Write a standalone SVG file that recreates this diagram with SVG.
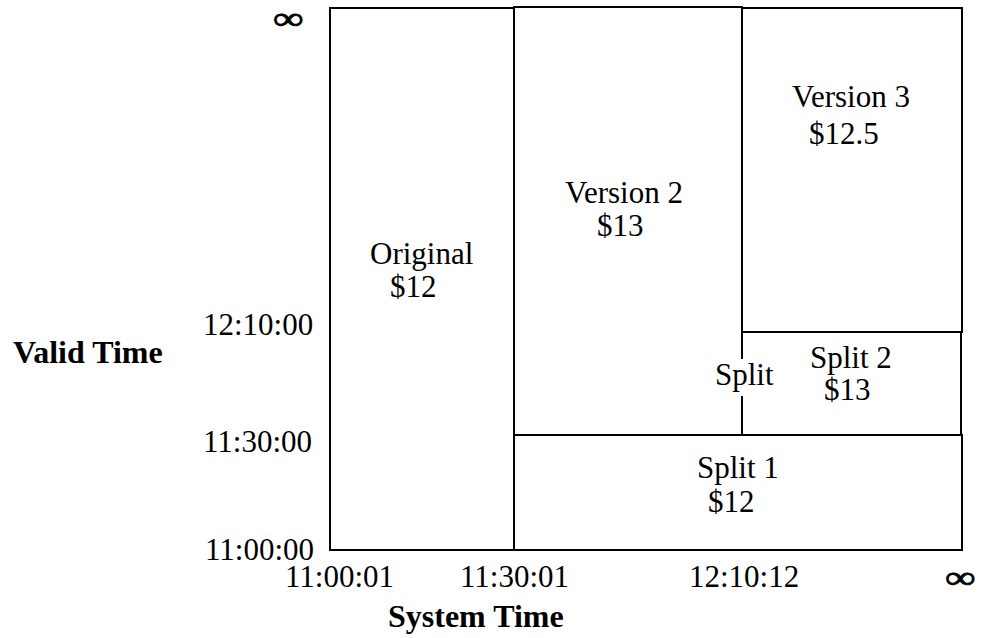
<svg xmlns="http://www.w3.org/2000/svg" width="981" height="638" viewBox="0 0 981 638">
<style>
  .box { fill: none; stroke: #000; stroke-width: 2; }
  .t { font-family: "Liberation Serif", "Times New Roman", serif; font-size: 31px; fill: #000; }
  .b { font-family: "Liberation Serif", "Times New Roman", serif; font-size: 32px; font-weight: bold; fill: #000; }
  .inf { font-family: "Liberation Serif", "DejaVu Serif", serif; font-size: 32px; fill: #000; stroke: #000; stroke-width: 0.8; }
</style>
<rect x="0" y="0" width="981" height="638" fill="#fff"/>
<g id="original">
  <rect class="box" x="330" y="8" width="184" height="542"/>
  <text class="t" x="370" y="264">Original</text>
  <text class="t" x="390" y="297">$12</text>
</g>
<g id="version2">
  <rect class="box" x="514" y="7" width="228" height="428"/>
  <text class="t" x="565" y="203">Version 2</text>
  <text class="t" x="597" y="236">$13</text>
</g>
<g id="version3">
  <rect class="box" x="742" y="8" width="220" height="324"/>
  <text class="t" x="792" y="107">Version 3</text>
  <text class="t" x="809" y="144">$12.5</text>
</g>
<g id="split2">
  <rect class="box" x="742" y="332" width="219" height="103"/>
  <text class="t" x="810" y="368">Split 2</text>
  <text class="t" x="824" y="400">$13</text>
</g>
<g id="split1">
  <rect class="box" x="514" y="435" width="448" height="115"/>
  <text class="t" x="697" y="478">Split 1</text>
  <text class="t" x="708" y="512">$12</text>
</g>
<g id="split-label">
  <rect x="714" y="359" width="62" height="37" fill="#fff"/>
  <text class="t" x="715" y="385">Split</text>
</g>
<g id="axes">
  <text class="inf" transform="translate(273,29) scale(1.35,1)" x="0" y="0">∞</text>
  <text class="inf" transform="translate(945,588) scale(1.35,1)" x="0" y="0">∞</text>
  <text class="b" x="13" y="363">Valid Time</text>
  <text class="b" x="388" y="627">System Time</text>
  <text class="t" x="203" y="335">12:10:00</text>
  <text class="t" x="203" y="452">11:30:00</text>
  <text class="t" x="205" y="560">11:00:00</text>
  <text class="t" x="285" y="587">11:00:01</text>
  <text class="t" x="460" y="587">11:30:01</text>
  <text class="t" x="689" y="587">12:10:12</text>
</g>
</svg>
